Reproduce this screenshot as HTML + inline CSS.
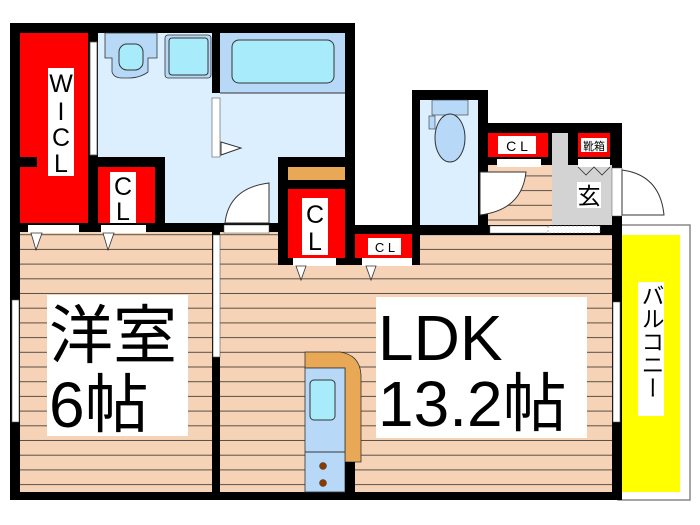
<!DOCTYPE html>
<html><head><meta charset="utf-8"><style>
html,body{margin:0;padding:0;background:#fff;width:700px;height:525px;overflow:hidden}
svg{display:block}
text{font-family:"Liberation Sans","Noto Sans CJK JP",sans-serif}
</style></head><body>
<svg width="700" height="525" viewBox="0 0 700 525" xmlns="http://www.w3.org/2000/svg">
<defs>
<pattern id="wood" x="0" y="0" width="10" height="14.7" patternUnits="userSpaceOnUse">
<rect width="10" height="14.7" fill="#f6d3b6"/>
<rect y="13.7" width="10" height="1.2" fill="#5a5048"/>
</pattern>
</defs>
<rect x="618" y="225" width="72" height="275" fill="#fff" stroke="#888" stroke-width="1.5"/>
<rect x="622" y="235" width="58" height="257" fill="#ffff00"/>
<rect x="638" y="282" width="26" height="134" fill="#fff"/>
<text x="651" y="284" font-size="23" writing-mode="tb" text-anchor="start" fill="#000">バルコニー</text>

<rect x="10" y="23" width="345" height="477" fill="#000"/>
<rect x="10" y="225" width="612" height="275" fill="#000"/>
<rect x="412" y="90" width="76" height="145" fill="#000"/>
<rect x="482" y="123" width="140" height="112" fill="#000"/>
<rect x="355" y="150" width="57" height="75" fill="#fff"/>

<rect x="20" y="232" width="192" height="260" fill="url(#wood)"/>
<rect x="220" y="265" width="392" height="227" fill="url(#wood)"/>
<rect x="220" y="232" width="58" height="33" fill="url(#wood)"/>
<rect x="420" y="235" width="192" height="30" fill="url(#wood)"/>
<rect x="488" y="165" width="64" height="60" fill="url(#wood)"/>
<rect x="552" y="165" width="60" height="60" fill="#d3d3d3"/>

<rect x="20" y="33" width="68" height="190" fill="#ff0000"/>
<rect x="20" y="157" width="17" height="10" fill="#000"/>
<rect x="48" y="68" width="26" height="108" fill="#fff"/>
<text x="61" y="92" font-size="25" text-anchor="middle">W</text>
<text x="61" y="120" font-size="25" text-anchor="middle">I</text>
<text x="61" y="146" font-size="25" text-anchor="middle">C</text>
<text x="61" y="172" font-size="25" text-anchor="middle">L</text>
<rect x="90" y="42" width="7" height="113" fill="#fff" stroke="#555" stroke-width="0.8"/>

<rect x="98" y="33" width="114" height="124" fill="#dcefff"/>
<rect x="165" y="157" width="113" height="66" fill="#dcefff"/>
<rect x="212" y="93" width="66" height="64" fill="#dcefff"/>
<path d="M105 33 H157 V58 H148 V72 Q140 78 128 78 H122 Q114 78 112 72 V58 H105 Z" fill="#b8d8f8" stroke="#333" stroke-width="0.8"/>
<rect x="119" y="44" width="24" height="26" rx="8" fill="#a8ecfc" stroke="#333"/>
<rect x="165" y="35" width="46" height="43" rx="3" fill="#b8d8f8" stroke="#333" stroke-width="0.8"/>
<rect x="169" y="38" width="39" height="37" rx="3" fill="#a8ecfc" stroke="#333"/>
<rect x="98" y="167" width="57" height="56" fill="#ff0000"/>
<rect x="110" y="172" width="26" height="51" fill="#fff"/>
<text x="123" y="195" font-size="25" text-anchor="middle">C</text>
<text x="123" y="220" font-size="25" text-anchor="middle">L</text>
<rect x="220" y="33" width="125" height="60" fill="#b8d8f8"/>
<rect x="220" y="93" width="125" height="64" fill="#dcefff"/>
<line x1="220" y1="93" x2="345" y2="93" stroke="#333"/>
<rect x="232" y="40" width="102" height="43" rx="7" fill="#a8ecfc" stroke="#333"/>
<rect x="212" y="98" width="8" height="59" fill="#fff" stroke="#555" stroke-width="0.6"/>
<path d="M221 142 L241 148 L221 155 Z" fill="#fff" stroke="#333"/>
<path d="M269 183 Q229 188 225 223 H269 Z" fill="#fff" stroke="#333"/>
<rect x="224" y="225" width="45" height="8" fill="#fff" stroke="#555" stroke-width="0.5"/>
<rect x="28" y="225" width="51" height="8" fill="#fff"/>
<rect x="101" y="225" width="45" height="8" fill="#fff"/>
<path d="M31 233 L42 233 L36 250 Z" fill="#fff" stroke="#333" stroke-width="0.8"/>
<path d="M103 233 L114 233 L108 250 Z" fill="#fff" stroke="#333" stroke-width="0.8"/>

<rect x="288" y="167" width="57" height="13" fill="#e8a855"/>
<rect x="288" y="189" width="57" height="69" fill="#ff0000"/>
<rect x="302" y="198" width="26" height="57" fill="#fff"/>
<text x="315" y="223" font-size="25" text-anchor="middle">C</text>
<text x="315" y="250" font-size="25" text-anchor="middle">L</text>
<rect x="293" y="258" width="43" height="8" fill="#fff"/>
<path d="M296 266 L306 266 L301 280 Z" fill="#fff" stroke="#333" stroke-width="0.8"/>
<rect x="355" y="234" width="57" height="24" fill="#ff0000"/>
<rect x="368" y="238" width="33" height="17" fill="#fff"/>
<text x="385" y="252" font-size="13" text-anchor="middle">C L</text>
<rect x="362" y="258" width="50" height="8" fill="#fff"/>
<path d="M366 266 L376 266 L371 280 Z" fill="#fff" stroke="#333" stroke-width="0.8"/>

<rect x="420" y="100" width="58" height="125" fill="#dcefff"/>
<rect x="432" y="100" width="36" height="15" fill="#b8d8f8" stroke="#333" stroke-width="0.6"/>
<rect x="429" y="116" width="6" height="13" fill="#b8d8f8" stroke="#333" stroke-width="0.6"/>
<ellipse cx="450" cy="138" rx="15" ry="24" fill="#b8d8f8" stroke="#333"/>
<rect x="488" y="133" width="60" height="24" fill="#ff0000"/>
<rect x="498" y="136" width="38" height="18" fill="#fff"/>
<text x="517" y="151" font-size="14" text-anchor="middle">C L</text>
<rect x="497" y="159" width="44" height="8" fill="#fff"/>
<rect x="578" y="133" width="32" height="24" fill="#ff0000"/>
<rect x="581" y="138" width="26" height="14" fill="#fff"/>
<text x="594" y="150" font-size="11" text-anchor="middle">靴箱</text>
<rect x="578" y="159" width="32" height="8" fill="#fff"/>
<rect x="552" y="133" width="16" height="32" fill="#d3d3d3"/>
<path d="M578 167 L586 175 L594 167 L602 175 L610 167" fill="none" stroke="#333" stroke-width="0.8"/>
<rect x="577" y="182" width="24" height="26" fill="#fff"/>
<text x="589" y="204" font-size="23" text-anchor="middle">玄</text>
<path d="M480 172 H526 Q522 210 480 215 Z" fill="#fff" stroke="#333"/>
<rect x="490" y="226" width="60" height="7" fill="#fff" stroke="#777" stroke-width="0.5"/>
<rect x="548" y="226" width="52" height="7" fill="#fff" stroke="#777" stroke-width="0.5" stroke-dasharray="2 2"/>
<rect x="612" y="168" width="10" height="48" fill="#fff" stroke="#555" stroke-width="0.5"/>
<path d="M622 170 Q660 175 664 215 H622 Z" fill="#fff" stroke="#333"/>

<rect x="12" y="300" width="7" height="122" fill="#fff" stroke="#555" stroke-width="0.6"/>
<rect x="213" y="235" width="7" height="122" fill="#fff" stroke="#555" stroke-width="0.6"/>
<rect x="613" y="302" width="7" height="120" fill="#fff" stroke="#555" stroke-width="0.6"/>

<path d="M305 352 H340 Q360 355 361 375 V462 H345 V368 H305 Z" fill="#e8a855" stroke="#333" stroke-width="0.8"/>
<rect x="305" y="368" width="40" height="124" fill="#b8d8f8" stroke="#333" stroke-width="0.8"/>
<line x1="305" y1="452" x2="345" y2="452" stroke="#333"/>
<rect x="310" y="380" width="25" height="40" rx="4" fill="#a8ecfc" stroke="#333"/>
<circle cx="323" cy="466" r="3.5" fill="#8a3a00" stroke="#333" stroke-width="0.5"/>
<circle cx="323" cy="483" r="3.5" fill="#8a3a00" stroke="#333" stroke-width="0.5"/>
<rect x="345" y="462" width="10" height="30" fill="#000"/>

<rect x="47" y="295" width="141" height="141" fill="#fff"/>
<text x="49" y="358" font-size="64">洋室</text>
<text x="49" y="427" font-size="64">6帖</text>
<rect x="376" y="297" width="211" height="141" fill="#fff"/>
<text x="378" y="360" font-size="64">LDK</text>
<text x="378" y="426" font-size="64">13.2帖</text>
</svg>
</body></html>
